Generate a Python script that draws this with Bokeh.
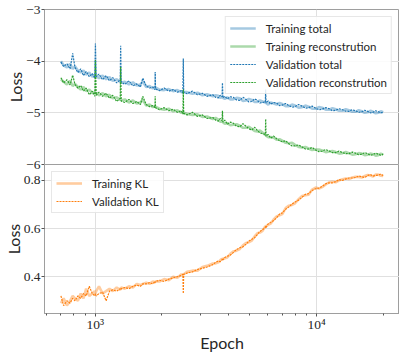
from bokeh.plotting import figure
from bokeh.models import Range1d, FixedTicker
from bokeh.layouts import column
from bokeh.embed import file_html
from bokeh.resources import INLINE

epochs = [700, 720, 745, 770, 791, 810, 835, 860, 885, 910,
          940, 970, 995, 1002, 1010, 1040, 1080, 1120, 1160, 1200,
          1250, 1297, 1303, 1310, 1360, 1420, 1480, 1540, 1600, 1640,
          1700, 1760, 1820, 1862, 1866, 1872, 1950, 2050, 2150, 2250,
          2350, 2450, 2490, 2500, 2510, 2600, 2750, 2900, 3050, 3200,
          3400, 3500, 3600, 3670, 3740, 3757, 3775, 3850, 3950, 4080,
          4200, 4350, 4500, 4650, 4800, 4950, 5100, 5250, 5400, 5550,
          5700, 5870, 5890, 5910, 6050, 6200, 6400, 6600, 6800, 7000,
          7250, 7500, 7750, 8000, 8300, 8600, 8900, 9200, 9550, 9900,
          10250, 10600, 11000, 11400, 11800, 12200, 12650, 13100, 13550, 14000,
          14500, 15000, 15500, 16000, 16500, 17000, 17500, 18000, 18500, 19000,
          19500, 20000]

train_total = [-4.00, -4.08, -4.12, -4.05, -4.15, -4.10, -4.18, -4.22, -4.18, -4.26,
               -4.22, -4.30, -4.27, -4.30, -4.28, -4.33, -4.28, -4.35, -4.31, -4.38,
               -4.35, -4.40, -4.38, -4.42, -4.40, -4.45, -4.41, -4.47, -4.45, -4.40,
               -4.50, -4.48, -4.53, -4.50, -4.53, -4.51, -4.55, -4.56, -4.54, -4.58,
               -4.56, -4.60, -4.59, -4.61, -4.60, -4.60, -4.63, -4.61, -4.66, -4.64,
               -4.68, -4.66, -4.67, -4.71, -4.70, -4.69, -4.71, -4.73, -4.70, -4.74,
               -4.74, -4.71, -4.72, -4.77, -4.76, -4.73, -4.75, -4.79, -4.79, -4.76,
               -4.78, -4.80, -4.79, -4.81, -4.84, -4.80, -4.82, -4.84, -4.81, -4.83,
               -4.87, -4.87, -4.84, -4.86, -4.90, -4.89, -4.86, -4.88, -4.92, -4.92,
               -4.89, -4.90, -4.94, -4.94, -4.91, -4.93, -4.96, -4.96, -4.93, -4.95,
               -4.98, -4.98, -4.95, -4.97, -5.00, -4.99, -4.96, -4.98, -5.01, -5.00,
               -4.97, -4.99]

train_recon = [-4.35, -4.40, -4.45, -4.38, -4.48, -4.44, -4.50, -4.55, -4.50, -4.58,
               -4.55, -4.62, -4.60, -4.63, -4.61, -4.66, -4.62, -4.68, -4.65, -4.72,
               -4.70, -4.75, -4.73, -4.76, -4.74, -4.80, -4.76, -4.82, -4.80, -4.75,
               -4.86, -4.84, -4.89, -4.87, -4.90, -4.88, -4.92, -4.94, -4.92, -4.97,
               -4.95, -5.00, -4.98, -5.01, -5.00, -5.02, -5.04, -5.03, -5.08, -5.07,
               -5.12, -5.10, -5.13, -5.17, -5.17, -5.16, -5.18, -5.21, -5.20, -5.24,
               -5.23, -5.22, -5.25, -5.29, -5.29, -5.27, -5.31, -5.35, -5.36, -5.34,
               -5.38, -5.43, -5.42, -5.44, -5.47, -5.47, -5.48, -5.52, -5.51, -5.54,
               -5.58, -5.59, -5.58, -5.62, -5.66, -5.67, -5.66, -5.69, -5.72, -5.71,
               -5.71, -5.73, -5.76, -5.75, -5.74, -5.76, -5.79, -5.78, -5.76, -5.78,
               -5.81, -5.80, -5.78, -5.79, -5.82, -5.81, -5.79, -5.80, -5.83, -5.82,
               -5.79, -5.81]

val_total = [-4.02, -4.10, -4.05, -4.15, -3.85, -4.12, -4.22, -4.15, -4.28, -4.20,
             -4.30, -4.24, -4.33, -3.66, -4.30, -4.25, -4.36, -4.28, -4.38, -4.32,
             -4.42, -4.36, -3.70, -4.40, -4.45, -4.38, -4.48, -4.44, -4.50, -4.33,
             -4.48, -4.52, -4.50, -4.55, -4.21, -4.54, -4.57, -4.52, -4.58, -4.55,
             -4.60, -4.57, -4.62, -3.95, -4.60, -4.63, -4.58, -4.65, -4.62, -4.68,
             -4.65, -4.70, -4.71, -4.66, -4.69, -4.42, -4.71, -4.68, -4.73, -4.69,
             -4.70, -4.75, -4.76, -4.70, -4.74, -4.79, -4.78, -4.73, -4.76, -4.81,
             -4.80, -4.79, -4.55, -4.81, -4.77, -4.83, -4.80, -4.81, -4.86, -4.85,
             -4.82, -4.86, -4.89, -4.88, -4.84, -4.87, -4.91, -4.90, -4.87, -4.91,
             -4.94, -4.93, -4.90, -4.92, -4.96, -4.95, -4.92, -4.94, -4.97, -4.97,
             -4.94, -4.96, -4.99, -4.98, -4.95, -4.97, -5.00, -4.99, -4.96, -4.98,
             -5.00, -4.99]

val_recon = [-4.32, -4.42, -4.36, -4.46, -4.27, -4.45, -4.52, -4.47, -4.58, -4.52,
             -4.65, -4.58, -4.68, -3.98, -4.66, -4.60, -4.68, -4.62, -4.72, -4.66,
             -4.78, -4.72, -4.11, -4.77, -4.80, -4.74, -4.82, -4.78, -4.84, -4.68,
             -4.84, -4.88, -4.86, -4.90, -4.68, -4.90, -4.94, -4.90, -4.96, -4.93,
             -4.99, -4.96, -5.02, -4.55, -5.01, -5.04, -4.99, -5.07, -5.04, -5.11,
             -5.09, -5.14, -5.16, -5.11, -5.15, -4.96, -5.18, -5.14, -5.22, -5.18,
             -5.20, -5.26, -5.27, -5.21, -5.26, -5.31, -5.33, -5.28, -5.34, -5.39,
             -5.40, -5.42, -5.12, -5.45, -5.42, -5.49, -5.45, -5.50, -5.54, -5.56,
             -5.54, -5.60, -5.64, -5.64, -5.62, -5.66, -5.70, -5.70, -5.67, -5.72,
             -5.75, -5.74, -5.71, -5.74, -5.77, -5.77, -5.74, -5.77, -5.79, -5.79,
             -5.76, -5.78, -5.81, -5.80, -5.77, -5.79, -5.82, -5.81, -5.78, -5.80,
             -5.82, -5.80]

train_kl = [0.29, 0.31, 0.28, 0.30, 0.32, 0.31, 0.30, 0.33, 0.31, 0.35,
            0.32, 0.33, 0.34, 0.33, 0.34, 0.36, 0.33, 0.34, 0.35, 0.34,
            0.355, 0.345, 0.35, 0.355, 0.35, 0.36, 0.355, 0.37, 0.365, 0.37,
            0.375, 0.37, 0.38, 0.375, 0.38, 0.38, 0.38, 0.39, 0.385, 0.40,
            0.395, 0.41, 0.405, 0.41, 0.41, 0.42, 0.425, 0.425, 0.44, 0.445,
            0.455, 0.455, 0.46, 0.468, 0.475, 0.47, 0.475, 0.476, 0.48, 0.495,
            0.505, 0.508, 0.515, 0.53, 0.54, 0.543, 0.55, 0.567, 0.58, 0.583,
            0.59, 0.61, 0.605, 0.61, 0.615, 0.62, 0.638, 0.65, 0.655, 0.66,
            0.685, 0.695, 0.698, 0.705, 0.722, 0.735, 0.738, 0.74, 0.762, 0.77,
            0.766, 0.772, 0.783, 0.792, 0.794, 0.792, 0.80, 0.805, 0.808, 0.806,
            0.812, 0.815, 0.814, 0.812, 0.818, 0.822, 0.82, 0.816, 0.824, 0.824,
            0.819, 0.818]

val_kl = [0.32, 0.28, 0.30, 0.29, 0.31, 0.30, 0.32, 0.31, 0.33, 0.32,
          0.36, 0.33, 0.32, 0.33, 0.32, 0.33, 0.335, 0.30, 0.34, 0.345,
          0.34, 0.35, 0.345, 0.35, 0.355, 0.35, 0.36, 0.365, 0.36, 0.37,
          0.37, 0.375, 0.37, 0.38, 0.375, 0.38, 0.385, 0.38, 0.39, 0.395,
          0.40, 0.405, 0.41, 0.33, 0.41, 0.415, 0.42, 0.43, 0.435, 0.44,
          0.45, 0.46, 0.465, 0.462, 0.47, 0.475, 0.47, 0.48, 0.485, 0.49,
          0.50, 0.513, 0.52, 0.524, 0.535, 0.548, 0.555, 0.562, 0.575, 0.588,
          0.595, 0.605, 0.61, 0.605, 0.62, 0.625, 0.633, 0.645, 0.66, 0.665,
          0.68, 0.69, 0.702, 0.71, 0.718, 0.73, 0.742, 0.745, 0.758, 0.765,
          0.768, 0.775, 0.786, 0.79, 0.79, 0.795, 0.803, 0.80, 0.806, 0.81,
          0.81, 0.812, 0.818, 0.815, 0.812, 0.82, 0.824, 0.818, 0.821, 0.822,
          0.826, 0.82]

x_major = [1000, 10000]
x_minor = [600, 700, 800, 900, 2000, 3000, 4000, 5000, 6000, 7000, 8000, 9000, 20000]
x_labels = {1000: "10\u00b3", 10000: "10\u2074"}
top_ticks = [-6, -5, -4, -3]
top_labels = {-6: "\u22126", -5: "\u22125", -4: "\u22124", -3: "\u22123"}
bottom_ticks = [0.4, 0.6, 0.8]

for arr in (train_total, train_recon, val_total, val_recon, train_kl, val_kl):
    assert len(arr) == len(epochs), len(arr)

BLUE = "#1f77b4"
GREEN = "#2ca02c"
ORANGE = "#ff7f0e"
SPINE = "#9e9e9e"
GRID = "#e0e0e0"
TEXT = "#262626"
TICKFONT = "Liberation Serif"
SANS = "Lato"
OVERLAP = 9
LEFT = 36
RIGHT = 0
TOPB = 9
F1 = 155
F2 = 153
BOTB = 37

x_range = Range1d(590, 23700)


def style(p):
    p.background_fill_color = "white"
    p.outline_line_color = SPINE
    p.outline_line_width = 1
    p.xgrid.ticker = FixedTicker(ticks=x_major)
    p.grid.grid_line_color = GRID
    p.grid.grid_line_width = 1
    for ax in p.axis:
        ax.axis_line_color = SPINE
        ax.major_tick_line_color = "#555555"
        ax.minor_tick_line_color = "#555555"
        ax.major_tick_in = 0
        ax.major_tick_out = 3
        ax.minor_tick_in = 0
        ax.minor_tick_out = 2
        ax.major_label_text_font = TICKFONT
        ax.major_label_text_font_size = "13.5px"
        ax.major_label_text_color = TEXT
        ax.major_label_standoff = 1
        ax.axis_label_text_font = SANS
        ax.axis_label_text_font_size = "16px"
        ax.axis_label_text_font_style = "normal"
        ax.axis_label_text_color = TEXT
        ax.axis_label_standoff = -2
    p.xaxis.ticker = FixedTicker(ticks=x_major, minor_ticks=x_minor)
    p.xaxis.major_label_overrides = x_labels
    p.xaxis.major_label_standoff = 0
    p.xaxis.axis_label_standoff = -2


def style_legend(p, loc):
    lg = p.legend[0]
    lg.location = loc
    lg.label_text_font = SANS
    lg.label_text_font_size = "11.5px"
    lg.label_text_color = TEXT
    lg.glyph_width = 26
    lg.glyph_height = 14
    lg.label_height = 14
    lg.label_standoff = 10
    lg.spacing = 4
    lg.padding = 4
    lg.margin = 7
    lg.border_line_color = "#d0d0d0"
    lg.border_line_width = 1
    lg.background_fill_color = "white"
    lg.background_fill_alpha = 0.85


top = figure(width=399, height=TOPB + F1 + OVERLAP, x_axis_type="log", x_range=x_range,
             y_range=Range1d(-6, -3), output_backend="svg", toolbar_location=None,
             min_border_left=LEFT, min_border_right=RIGHT, min_border_top=TOPB,
             min_border_bottom=OVERLAP)
style(top)
top.xaxis.visible = False
top.yaxis.ticker = FixedTicker(ticks=top_ticks)
top.yaxis.major_label_overrides = top_labels
top.yaxis.axis_label = "Loss"

top.line(epochs, train_total, color=BLUE, alpha=0.4, line_width=2.6, legend_label="Training total")
top.line(epochs, train_recon, color=GREEN, alpha=0.4, line_width=2.6, legend_label="Training reconstrution")
top.line(epochs, val_total, color=BLUE, line_width=1.2, line_dash="2 1", legend_label="Validation total")
top.line(epochs, val_recon, color=GREEN, line_width=1.2, line_dash="2 1", legend_label="Validation reconstrution")
style_legend(top, "top_right")

bottom = figure(width=399, height=F2 + BOTB, x_axis_type="log", x_range=x_range,
                y_range=Range1d(0.247, 0.866), output_backend="svg", toolbar_location=None,
                min_border_left=LEFT, min_border_right=RIGHT, min_border_top=0, min_border_bottom=BOTB,
                styles={"margin-top": "-%dpx" % OVERLAP})
style(bottom)
bottom.border_fill_alpha = 0
bottom.yaxis.ticker = FixedTicker(ticks=bottom_ticks)
bottom.yaxis.axis_label = "Loss"
bottom.xaxis.axis_label = "Epoch"

bottom.line(epochs, train_kl, color=ORANGE, alpha=0.4, line_width=2.6, legend_label="Training KL")
bottom.line(epochs, val_kl, color=ORANGE, line_width=1.2, line_dash="2 1", legend_label="Validation KL")
style_legend(bottom, "top_left")

total_h = TOPB + F1 + OVERLAP + F2 + BOTB - OVERLAP
p = column(top, bottom, width=399, height=total_h)

open("out.html", "w").write(file_html(p, INLINE))
